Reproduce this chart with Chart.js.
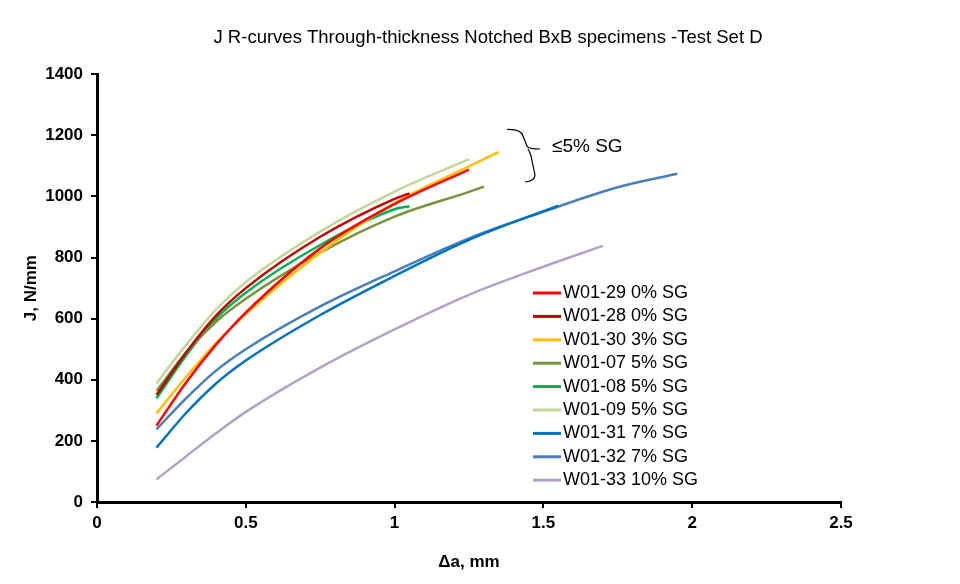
<!DOCTYPE html>
<html lang="en">
<head>
<meta charset="UTF-8">
<title>J R-curves Test Set D</title>
<script src="https://cdn.jsdelivr.net/npm/chart.js@4"></script>
<style>
  body { margin: 0; background: #fff; }
</style>
</head>
<body>
<canvas id="jr" width="960" height="584"></canvas>
<script>
// crack extension (mm) and J (N/mm)
const dA_W0129 = [0.2, 0.3, 0.4, 0.5, 0.75, 1.0, 1.25];
const J_W0129  = [250, 392, 515, 620, 830, 975, 1088];
const dA_W0128 = [0.2, 0.3, 0.4, 0.5, 0.75, 1.0, 1.05];
const J_W0128  = [350, 490, 610, 700, 868, 992, 1010];
const dA_W0130 = [0.2, 0.3, 0.4, 0.5, 0.75, 1.0, 1.25, 1.35];
const J_W0130  = [290, 410, 520, 615, 816, 978, 1098, 1146];
const dA_W0107 = [0.2, 0.3, 0.4, 0.5, 0.75, 1.0, 1.25, 1.3];
const J_W0107  = [364, 490, 590, 665, 816, 934, 1015, 1032];
const dA_W0108 = [0.2, 0.3, 0.4, 0.5, 0.75, 1.0, 1.05];
const J_W0108  = [339, 480, 600, 685, 841, 958, 968];
const dA_W0109 = [0.2, 0.3, 0.4, 0.5, 0.75, 1.0, 1.25];
const J_W0109  = [388, 515, 630, 720, 885, 1016, 1122];
const dA_W0131 = [0.2, 0.3, 0.4, 0.5, 0.75, 1.0, 1.25, 1.55];
const J_W0131  = [178, 292, 388, 463, 612, 740, 858, 970];
const dA_W0132 = [0.2, 0.3, 0.4, 0.5, 0.75, 1.0, 1.25, 1.5, 1.75, 1.95];
const J_W0132  = [238, 340, 430, 500, 640, 755, 863, 950, 1030, 1074];
const dA_W0133 = [0.2, 0.3, 0.4, 0.5, 0.75, 1.0, 1.25, 1.5, 1.7];
const J_W0133  = [74, 150, 225, 295, 440, 565, 678, 770, 838];

const seriesNames = ['W01-29 0% SG', 'W01-28 0% SG', 'W01-30 3% SG', 'W01-07 5% SG', 'W01-08 5% SG',
                     'W01-09 5% SG', 'W01-31 7% SG', 'W01-32 7% SG', 'W01-33 10% SG'];
const seriesColors = ['#FF0000', '#C00000', '#FFC000', '#77933C', '#00B050',
                      '#C3D69B', '#0070C0', '#4A7EBB', '#B3A2C7'];

const xTicks = [0, 0.5, 1, 1.5, 2, 2.5];
const yTicks = [0, 200, 400, 600, 800, 1000, 1200, 1400];

const FONT = '"Liberation Sans", Arial, sans-serif';

function pts(xs, ys) {
  return xs.map((x, i) => ({ x: x, y: ys[i] }));
}

const allSeries = [
  pts(dA_W0129, J_W0129), pts(dA_W0128, J_W0128), pts(dA_W0130, J_W0130),
  pts(dA_W0107, J_W0107), pts(dA_W0108, J_W0108), pts(dA_W0109, J_W0109),
  pts(dA_W0131, J_W0131), pts(dA_W0132, J_W0132), pts(dA_W0133, J_W0133)
];

// legend inside the plot + the "<=5% SG" brace note
const insideLegend = {
  id: 'insideLegend',
  afterDraw(chart) {
    const ctx = chart.ctx;
    ctx.save();
    ctx.font = '18px ' + FONT;
    ctx.textBaseline = 'middle';
    ctx.textAlign = 'left';
    chart.data.datasets.forEach((ds, i) => {
      const y = 293 + i * 23.4;
      ctx.strokeStyle = ds.borderColor;
      ctx.lineWidth = 3;
      ctx.beginPath();
      ctx.moveTo(533, y);
      ctx.lineTo(561, y);
      ctx.stroke();
      ctx.fillStyle = '#000';
      ctx.fillText(ds.label, 563, y);
    });

    // brace
    ctx.strokeStyle = '#000';
    ctx.lineWidth = 1.2;
    ctx.beginPath();
    ctx.moveTo(507, 129.5);
    ctx.quadraticCurveTo(521, 129, 523, 136);
    ctx.lineTo(527, 146);
    ctx.quadraticCurveTo(528, 149, 540, 149);
    ctx.moveTo(528, 149);
    ctx.quadraticCurveTo(530, 152, 531, 156);
    ctx.lineTo(535, 175);
    ctx.quadraticCurveTo(535, 181, 525, 182);
    ctx.stroke();

    ctx.font = '19px ' + FONT;
    ctx.fillStyle = '#000';
    ctx.fillText('\u22645% SG', 552, 147);
    ctx.restore();
  }
};

new Chart(document.getElementById('jr'), {
  type: 'line',
  data: {
    datasets: allSeries.map((d, i) => ({
      label: seriesNames[i],
      data: d,
      borderColor: seriesColors[i],
      backgroundColor: seriesColors[i],
      borderWidth: 2.5,
      pointRadius: 0,
      fill: false,
      cubicInterpolationMode: 'monotone'
    }))
  },
  options: {
    responsive: false,
    animation: false,
    layout: { padding: { left: 16, right: 0, top: 0, bottom: 0 } },
    plugins: {
      legend: { display: false },
      tooltip: { enabled: false },
      title: {
        display: true,
        text: 'J R-curves Through-thickness Notched BxB specimens -Test Set D',
        color: '#000',
        font: { family: FONT, size: 18.5, weight: 'normal' },
        padding: { top: 27, bottom: 25 }
      }
    },
    scales: {
      x: {
        type: 'linear',
        min: 0,
        max: 2.5,
        afterBuildTicks: (s) => { s.ticks = xTicks.map(v => ({ value: v })); },
        afterFit: (s) => { s.height = 82; },
        border: { display: true, color: '#000', width: 3 },
        grid: { drawOnChartArea: false, color: '#000', lineWidth: 2, tickLength: 6 },
        ticks: {
          color: '#000', padding: 5,
          font: { family: FONT, size: 17, weight: 'bold' },
          callback: (v) => String(v)
        },
        title: {
          display: true,
          text: '\u0394a, mm',
          color: '#000',
          font: { family: FONT, size: 17, weight: 'bold' },
          padding: { top: 0, bottom: 11 }
        }
      },
      y: {
        min: 0,
        max: 1400,
        afterBuildTicks: (s) => { s.ticks = yTicks.map(v => ({ value: v })); },
        afterFit: (s) => { s.width = 81; },
        border: { display: true, color: '#000', width: 3 },
        grid: { drawOnChartArea: false, color: '#000', lineWidth: 2, tickLength: 6 },
        ticks: {
          color: '#000', padding: 8,
          font: { family: FONT, size: 17, weight: 'bold' },
          callback: (v) => String(v)
        },
        title: {
          display: true,
          text: 'J, N/mm',
          color: '#000',
          font: { family: FONT, size: 17, weight: 'bold' },
          padding: { top: 5, bottom: 0 }
        }
      },
      // empty axis on the right, only reserves the white margin
      yRight: {
        position: 'right',
        min: 0,
        max: 1400,
        afterFit: (s) => { s.width = 119; },
        border: { display: false },
        grid: { display: false },
        ticks: { display: false }
      }
    }
  },
  plugins: [insideLegend]
});
</script>
</body>
</html>
